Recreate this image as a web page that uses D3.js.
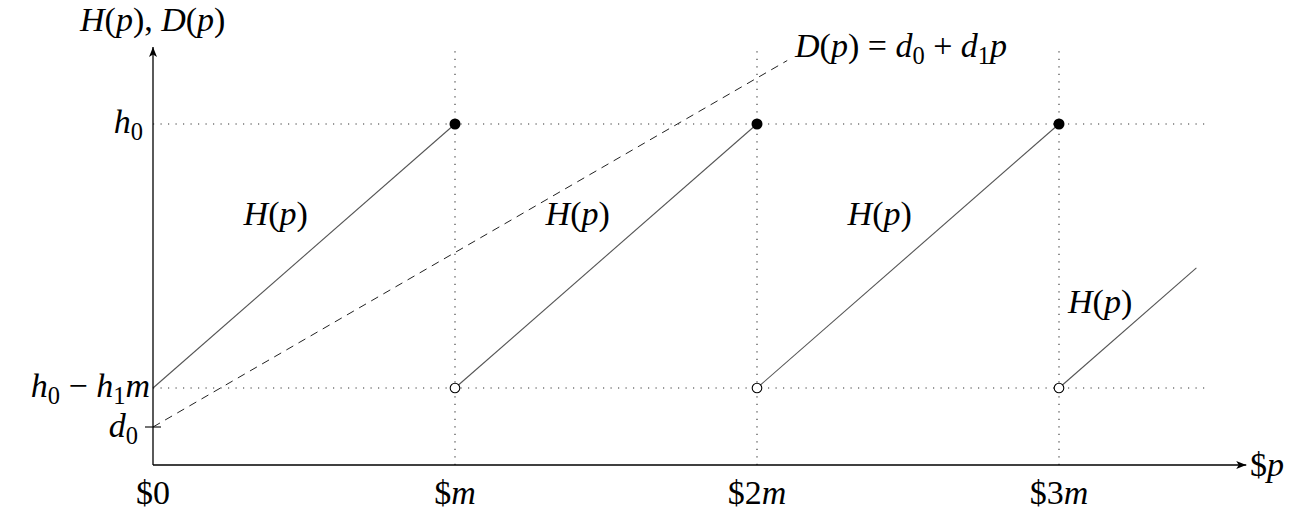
<!DOCTYPE html>
<html>
<head>
<meta charset="utf-8">
<script src="https://cdn.jsdelivr.net/npm/d3@7"></script>
<style>
  html, body { margin: 0; padding: 0; background: #fff; }
  svg { display: block; }
</style>
</head>
<body>
<svg id="chart" width="1297" height="512"></svg>
<script>
// values (x in units of m, y in arbitrary price units)
const xTicks = [0, 1, 2, 3];
const xTickLabels = [
  [['$'], ['0']],
  [['$'], ['m', 'i']],
  [['$'], ['2'], ['m', 'i']],
  [['$'], ['3'], ['m', 'i']]
];
const h0 = 3.41;
const h0MinusH1m = 0.77;
const d0 = 0.38;
const d1 = 1.745;
const dEnd = 2.10;
const segStart = [0, 1, 2, 3];
const segEnd = [1, 2, 3, 3.455];
const filledAt = [1, 2, 3];
const openAt = [1, 2, 3];
const hLabelX = [0.3, 1.3, 2.3, 3.03];
const hLabelY = [2.43, 2.43, 2.43, 1.55];
const xMax = 3.62, yMax = 4.18;

const FONT = "'Liberation Serif', 'Times New Roman', serif";

const svg = d3.select('#chart');
const x = d3.scaleLinear().domain([0, 1]).range([153, 455]);
const y = d3.scaleLinear().domain([0, 1]).range([465, 365]);

// math-ish text: parts = [text, 'i' italic | 's' subscript]
const mathText = (g, parts, px, py, size, anchor) => {
  const t = g.append('text').attr('x', px).attr('y', py)
    .attr('font-family', FONT).attr('fill', '#000')
    .attr('font-size', size).attr('text-anchor', anchor || 'start');
  let sub = false;
  for (const [s, f] of parts) {
    const ts = t.append('tspan').text(s);
    const isSub = f && f.includes('s');
    if (f && f.includes('i')) ts.attr('font-style', 'italic');
    if (isSub && !sub) ts.attr('dy', size * 0.2);
    if (!isSub && sub) ts.attr('dy', -size * 0.2);
    if (isSub) ts.attr('font-size', size * 0.72);
    sub = isSub;
  }
  return t;
};

const H = [['H', 'i'], ['('], ['p', 'i'], [')']];

svg.append('defs').append('marker')
  .attr('id', 'arrow').attr('viewBox', '0 0 10 10')
  .attr('refX', 10).attr('refY', 5)
  .attr('markerWidth', 12).attr('markerHeight', 10)
  .attr('markerUnits', 'userSpaceOnUse').attr('orient', 'auto')
  .append('path').attr('d', 'M0,1 L10,5 L0,9 L2.5,5 Z').attr('fill', '#000');

// grid: dotted
const grid = svg.append('g').attr('stroke', '#333').attr('stroke-width', 1.1)
  .attr('stroke-dasharray', '1.2,6.3').attr('fill', 'none');
for (const v of [h0, h0MinusH1m]) {
  grid.append('line').attr('x1', x(0)).attr('x2', x(3.5)).attr('y1', y(v)).attr('y2', y(v));
}
for (const t of xTicks.slice(1)) {
  grid.append('line').attr('x1', x(t)).attr('x2', x(t)).attr('y1', y(0)).attr('y2', y(yMax));
}

// D(p) dashed
svg.append('line')
  .attr('x1', x(0)).attr('y1', y(d0)).attr('x2', x(dEnd)).attr('y2', y(d0 + d1 * dEnd))
  .attr('stroke', '#222').attr('stroke-width', 1).attr('stroke-dasharray', '8,6');

// H(p) sawtooth
const line = d3.line().x(d => x(d[0])).y(d => y(d[1]));
segStart.forEach((s, i) => {
  const e = segEnd[i];
  const h1 = (h0 - h0MinusH1m);
  svg.append('path')
    .attr('d', line([[s, h0MinusH1m], [e, h0MinusH1m + h1 * (e - s)]]))
    .attr('stroke', '#555').attr('stroke-width', 1.1).attr('fill', 'none');
});

// axes
svg.append('line').attr('x1', x(0)).attr('y1', y(0)).attr('x2', x(xMax)).attr('y2', y(0))
  .attr('stroke', '#000').attr('stroke-width', 1.3).attr('marker-end', 'url(#arrow)');
svg.append('line').attr('x1', x(0)).attr('y1', y(0)).attr('x2', x(0)).attr('y2', y(yMax))
  .attr('stroke', '#000').attr('stroke-width', 1.3).attr('marker-end', 'url(#arrow)');
svg.append('line').attr('x1', x(0) - 8).attr('x2', x(0) + 8).attr('y1', y(d0)).attr('y2', y(d0))
  .attr('stroke', '#000').attr('stroke-width', 1.1);

// markers
svg.selectAll('circle.filled').data(filledAt).join('circle').attr('class', 'filled')
  .attr('cx', d => x(d)).attr('cy', y(h0)).attr('r', 5.5).attr('fill', '#000');
svg.selectAll('circle.open').data(openAt).join('circle').attr('class', 'open')
  .attr('cx', d => x(d)).attr('cy', y(h0MinusH1m)).attr('r', 4.8)
  .attr('fill', '#fff').attr('stroke', '#000').attr('stroke-width', 1.1);

// labels
const fs = 34;
xTicks.forEach((t, i) => mathText(svg, xTickLabels[i], x(t), 504, fs, 'middle'));
mathText(svg, [['$'], ['p', 'i']], 1250, 476, fs, 'start');
mathText(svg, [['h', 'i'], ['0', 's']], 143, y(h0) + 9, fs, 'end');
mathText(svg, [['h', 'i'], ['0', 's'], [' \u2212 '], ['h', 'i'], ['1', 's'], ['m', 'i']], 150, y(h0MinusH1m) + 9, fs, 'end');
mathText(svg, [['d', 'i'], ['0', 's']], 138, y(d0) + 10, fs, 'end');
mathText(svg, H.concat([[', '], ['D', 'i'], ['('], ['p', 'i'], [')']]), 80, 31, fs, 'start');
mathText(svg, [['D', 'i'], ['('], ['p', 'i'], [')'], [' = '], ['d', 'i'], ['0', 's'], [' + '], ['d', 'i'], ['1', 's'], ['p', 'i']], 795, 57, fs, 'start');
hLabelX.forEach((v, i) => mathText(svg, H, x(v), y(hLabelY[i]) + 3, fs, 'start'));
</script>
</body>
</html>
